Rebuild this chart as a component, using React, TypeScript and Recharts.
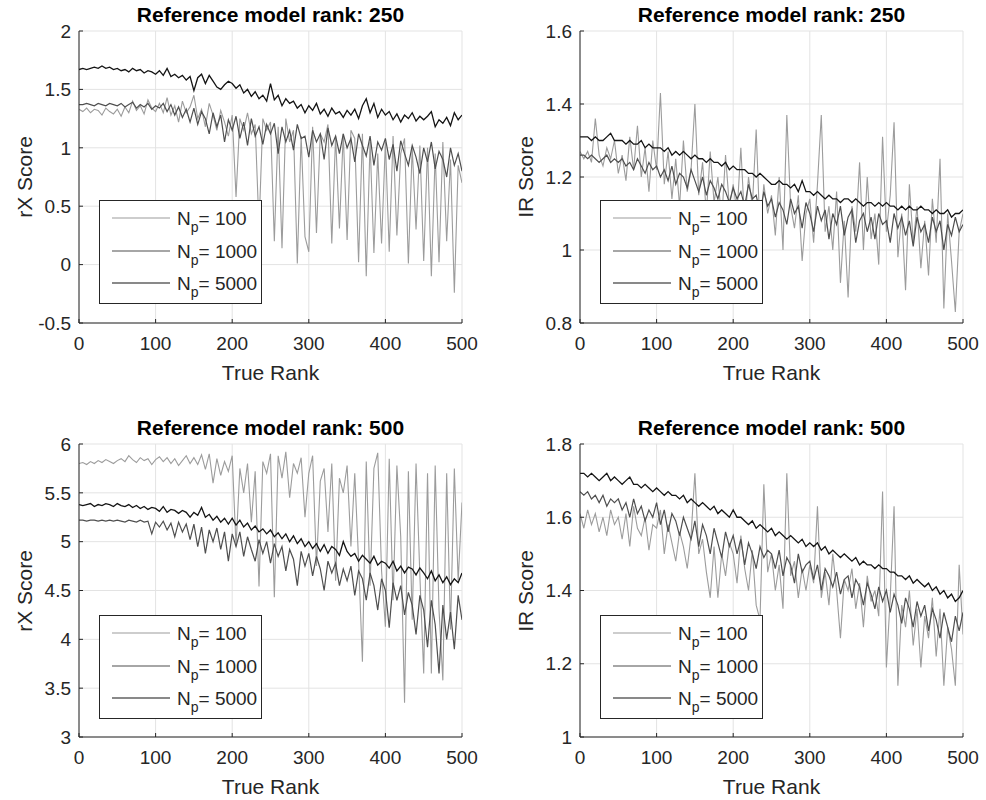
import React from 'react';
import { LineChart, Line, XAxis, YAxis, CartesianGrid } from 'recharts';

// true rank, sampled every 5
const ranks = Array.from({ length: 101 }, (_, i) => i * 5);
const rankTicks = [0, 100, 200, 300, 400, 500];

// ---- reference model rank 250, rX score ----
const rx250N100 = [
  1.33, 1.31, 1.34, 1.3, 1.33, 1.32, 1.28, 1.34, 1.31, 1.29,
  1.33, 1.27, 1.35, 1.3, 1.4, 1.32, 1.36, 1.29, 1.41, 1.34,
  1.31, 1.38, 1.3, 1.43, 1.28, 1.36, 1.22, 1.4, 1.3, 1.35,
  1.45, 1.25, 1.33, 1.18, 1.38, 1.28, 1.15, 1.32, 1.22, 1.1,
  1.28, 0.58, 1.25, 1.15, 1.3, 1.12, 1.2, 0.32, 1.25, 1.15,
  1.22, 0.2, 1.18, 0.14, 1.25, 1.05, 1.15, 0.01, 1.1, 0.24,
  0.11, 1.18, 0.27, 1.12, 1.05, 1.2, 0.18, 1.1, 0.31, 1.12,
  0.21, 1.15, 1.08, 0.02, 1.12, -0.1, 1.05, 0.1, 0.95, 0.18,
  1.05, 0.11, 1.1, 0.25, 0.95, 1.08, 0.01, 1.0, 0.3, 1.02,
  0.03, 1.0, -0.1, 0.95, 0.02, 1.05, 0.2, 0.9, -0.24, 0.85,
  0.7,
];
const rx250N1000 = [
  1.37, 1.37, 1.38, 1.37, 1.36, 1.38, 1.37, 1.36, 1.38, 1.37,
  1.36, 1.38, 1.35, 1.37, 1.39, 1.34, 1.37, 1.35, 1.38, 1.33,
  1.36, 1.34, 1.38, 1.31, 1.37, 1.28, 1.35, 1.26, 1.33, 1.22,
  1.34, 1.2, 1.31, 1.25, 1.12, 1.3, 1.18, 1.28, 1.05, 1.24,
  1.15, 1.27, 1.08, 1.22, 1.02, 1.25, 1.1, 1.18, 1.03, 1.2,
  1.12, 1.21, 0.95, 1.18, 1.05, 1.15, 0.98, 1.2, 1.08, 1.1,
  0.92, 1.15, 1.05, 1.12, 0.9, 1.17, 1.02, 1.1, 0.95, 1.12,
  1.0, 1.08, 0.88, 1.12, 1.02, 0.93, 1.1, 0.85, 1.05, 0.98,
  1.08, 0.9, 1.03, 0.8, 1.06, 0.95, 0.85, 1.02, 0.92, 0.78,
  1.0, 0.88, 1.05, 0.82, 0.97, 0.9, 0.75, 1.0, 0.85, 0.95,
  0.8,
];
const rx250N5000 = [
  1.67, 1.68, 1.67, 1.68, 1.69, 1.68, 1.7, 1.68, 1.69, 1.67,
  1.68, 1.66, 1.67, 1.65, 1.68, 1.66, 1.67, 1.64, 1.66, 1.65,
  1.63, 1.66, 1.62, 1.68, 1.61, 1.63, 1.6, 1.62, 1.58, 1.61,
  1.49, 1.6, 1.63, 1.55, 1.62, 1.57, 1.52, 1.5, 1.54, 1.57,
  1.55, 1.51, 1.54, 1.47, 1.5, 1.44, 1.48, 1.42, 1.45, 1.4,
  1.55, 1.41, 1.45, 1.36, 1.42, 1.38, 1.4, 1.34, 1.37, 1.3,
  1.36, 1.32, 1.38, 1.29, 1.33, 1.27, 1.34, 1.29, 1.31, 1.26,
  1.32, 1.28, 1.33, 1.25, 1.36, 1.42, 1.3, 1.38, 1.26, 1.33,
  1.28, 1.31, 1.24, 1.29, 1.22, 1.28, 1.25, 1.3, 1.23, 1.27,
  1.24, 1.27, 1.31, 1.18, 1.24, 1.21, 1.26, 1.19, 1.3, 1.24,
  1.28,
];

// ---- reference model rank 250, IR score ----
const ir250N100 = [
  1.27, 1.25, 1.27, 1.24, 1.36, 1.26, 1.23, 1.28, 1.25, 1.3,
  1.21, 1.26, 1.19, 1.31, 1.22, 1.34, 1.2, 1.28, 1.16, 1.3,
  1.22, 1.43, 1.18, 1.27, 1.14, 1.25, 1.12, 1.3, 1.16, 1.22,
  1.4, 1.15, 1.24, 1.1, 1.27, 1.13, 1.2, 1.08, 1.26, 1.12,
  1.18, 1.1, 1.28, 1.07, 1.2, 1.12, 1.33, 1.05, 1.18, 1.1,
  1.15, 1.04, 1.2, 1.0, 1.37, 1.12, 1.06, 1.15, 0.97, 1.1,
  1.14, 1.02, 1.18, 1.37, 1.05, 1.12, 1.0, 1.16, 0.91, 1.08,
  0.87, 1.12, 1.05, 1.24, 1.0, 1.2, 1.03, 1.1, 0.96, 1.31,
  1.05, 1.15, 1.35, 0.98, 1.1, 0.89, 1.18, 1.02, 1.12, 0.95,
  1.08, 0.93, 1.14, 1.02, 1.25, 0.84, 1.1, 0.97, 0.83, 1.05,
  1.1,
];
const ir250N1000 = [
  1.26, 1.26, 1.25, 1.26, 1.25, 1.24, 1.25, 1.26, 1.24, 1.25,
  1.24, 1.25, 1.23, 1.24, 1.22, 1.25, 1.23, 1.21, 1.24, 1.22,
  1.23, 1.2, 1.22, 1.19, 1.23, 1.18, 1.21, 1.2, 1.17, 1.22,
  1.19, 1.16, 1.2, 1.15, 1.19, 1.17, 1.14, 1.18, 1.16, 1.13,
  1.17, 1.14, 1.16, 1.12, 1.18, 1.14, 1.15, 1.1, 1.16, 1.12,
  1.14, 1.09, 1.13, 1.11, 1.07, 1.14, 1.1, 1.12, 1.06, 1.13,
  1.1, 1.05, 1.12, 1.08, 1.11, 1.03, 1.1, 1.07, 1.12, 1.04,
  1.09, 1.11, 1.02, 1.08, 1.1, 1.05, 1.09, 1.03, 1.1, 1.07,
  1.08, 1.02, 1.1, 1.06, 1.09, 1.04, 1.08, 1.01, 1.09, 1.05,
  1.07, 1.02, 1.09, 1.05, 1.08, 1.0, 1.07, 1.04, 1.09, 1.05,
  1.07,
];
const ir250N5000 = [
  1.31, 1.31, 1.31, 1.3, 1.31, 1.3, 1.3, 1.31, 1.32, 1.3,
  1.3, 1.3, 1.29, 1.3, 1.29, 1.29, 1.3, 1.28, 1.29, 1.28,
  1.28, 1.28, 1.27, 1.28, 1.26, 1.27, 1.26, 1.27, 1.26, 1.25,
  1.26, 1.25, 1.25, 1.24, 1.25, 1.24, 1.24, 1.23, 1.24, 1.22,
  1.23, 1.22, 1.22, 1.22, 1.21, 1.21, 1.2, 1.21, 1.2, 1.19,
  1.18, 1.18, 1.19, 1.18, 1.18, 1.17, 1.18, 1.16, 1.19, 1.16,
  1.16, 1.15, 1.16, 1.15, 1.14, 1.15, 1.14, 1.14, 1.13, 1.14,
  1.14, 1.13, 1.14, 1.13, 1.12, 1.13, 1.13, 1.12, 1.13, 1.12,
  1.13, 1.12, 1.12, 1.11, 1.12, 1.11, 1.12, 1.11, 1.11, 1.12,
  1.11, 1.11, 1.1, 1.11, 1.1, 1.1, 1.11, 1.09, 1.1, 1.1,
  1.11,
];

// ---- reference model rank 500, rX score ----
const rx500N100 = [
  5.8, 5.81, 5.79, 5.82, 5.8, 5.83, 5.81, 5.84, 5.82, 5.8,
  5.83, 5.85, 5.82, 5.88, 5.84, 5.81, 5.86, 5.83, 5.85, 5.79,
  5.84, 5.87, 5.82, 5.86, 5.8, 5.85, 5.78, 5.83, 5.88, 5.8,
  5.86, 5.79, 5.89, 5.74, 5.9, 5.6, 5.85, 5.68, 5.82, 5.72,
  5.88, 4.95, 5.75, 5.5, 5.8, 5.2, 5.72, 4.54, 5.82, 5.7,
  5.9, 4.43, 5.88, 5.65, 5.92, 5.45, 5.8, 5.7, 5.86, 5.25,
  5.7, 5.88, 4.75, 5.62, 5.75, 5.1, 5.8, 4.6, 5.65, 5.5,
  5.78, 4.95, 5.7, 4.8, 3.77, 5.82, 4.55, 5.75, 5.91, 4.7,
  4.13, 5.85, 4.4, 5.78, 5.05, 3.35, 5.72, 4.2, 5.8, 4.65,
  3.65, 5.7, 3.65, 5.78, 4.3, 3.58, 5.7, 4.1, 5.75, 4.6,
  5.4,
];
const rx500N1000 = [
  5.22, 5.22, 5.21, 5.22, 5.22, 5.21, 5.22, 5.21, 5.22, 5.21,
  5.22, 5.21, 5.2, 5.22, 5.21, 5.2, 5.22, 5.2, 5.21, 5.08,
  5.2, 5.15, 5.21, 5.12, 5.19, 5.05, 5.2, 5.1, 5.18, 5.02,
  5.18, 4.95, 5.15, 4.88, 5.12, 5.0, 5.14, 4.92, 5.1, 4.8,
  5.08, 4.95, 5.1, 4.85, 5.05, 4.92, 4.8, 5.02, 4.88, 5.0,
  4.78, 4.98, 4.85, 4.95, 4.7, 4.92, 4.82, 4.55, 4.9, 4.75,
  4.88, 4.65, 4.85, 4.72, 4.5, 4.8, 4.68, 4.78, 4.55, 4.72,
  4.6, 4.75, 4.45, 4.7, 4.62, 4.4, 4.68, 4.55, 4.3, 4.62,
  4.5, 4.12, 4.58, 4.4, 4.55, 4.25, 4.48, 4.35, 4.05, 4.45,
  4.3, 3.92, 4.4, 4.15, 3.65, 4.35, 4.0, 4.28, 3.9, 4.45,
  4.2,
];
const rx500N5000 = [
  5.38, 5.37, 5.38, 5.39, 5.36, 5.38, 5.37, 5.39, 5.38, 5.36,
  5.39, 5.37, 5.36, 5.38, 5.35, 5.37, 5.34, 5.36, 5.33, 5.35,
  5.34, 5.31, 5.36, 5.3, 5.33, 5.32, 5.29, 5.32, 5.3, 5.25,
  5.3, 5.27, 5.35, 5.25, 5.28, 5.22, 5.26, 5.2, 5.24, 5.18,
  5.24, 5.17, 5.22, 5.15, 5.19, 5.12, 5.16, 5.1, 5.13, 5.08,
  5.12, 5.05, 5.09, 5.03, 5.08, 5.0, 5.06, 4.98, 5.03, 4.95,
  5.0, 4.93, 4.98, 4.9, 4.97, 4.88, 4.95, 4.92, 4.86, 5.0,
  4.9, 4.85, 4.88, 4.8, 4.86, 4.82, 4.78, 4.85, 4.76, 4.8,
  4.78, 4.73, 4.8, 4.7, 4.75, 4.68, 4.74, 4.72, 4.66, 4.73,
  4.68, 4.62, 4.7, 4.6, 4.66, 4.58, 4.64, 4.56, 4.62, 4.58,
  4.68,
];

// ---- reference model rank 500, IR score ----
const ir500N100 = [
  1.61, 1.57, 1.62, 1.58, 1.61, 1.56, 1.6, 1.55, 1.62, 1.58,
  1.6, 1.54, 1.61, 1.52, 1.63, 1.57, 1.55, 1.6, 1.51, 1.58,
  1.57, 1.62, 1.5, 1.58, 1.53, 1.48, 1.56, 1.52, 1.46, 1.55,
  1.72, 1.5, 1.54, 1.45, 1.38, 1.52, 1.38, 1.5, 1.44, 1.53,
  1.5, 1.42, 1.55, 1.46, 1.4, 1.51, 1.36, 1.32, 1.69, 1.45,
  1.5, 1.4, 1.47, 1.35, 1.72, 1.44, 1.48, 1.38, 1.46, 1.4,
  1.47, 1.42, 1.63, 1.38, 1.45, 1.36, 1.5, 1.4, 1.27, 1.43,
  1.4, 1.46, 1.35, 1.42, 1.3, 1.44, 1.37, 1.4, 1.33, 1.67,
  1.19, 1.38, 1.63, 1.14, 1.36, 1.3, 1.4, 1.25, 1.35, 1.19,
  1.33, 1.27, 1.38, 1.22, 1.35, 1.14, 1.3, 1.24, 1.14, 1.47,
  1.28,
];
const ir500N1000 = [
  1.67, 1.66, 1.67, 1.65, 1.66, 1.64, 1.66, 1.63, 1.65, 1.64,
  1.65, 1.62, 1.64, 1.6, 1.65, 1.61, 1.63, 1.59, 1.62, 1.6,
  1.64, 1.58, 1.62, 1.56, 1.61, 1.59, 1.55, 1.6, 1.57, 1.54,
  1.59, 1.52, 1.58, 1.55, 1.5, 1.57, 1.53, 1.49, 1.56, 1.52,
  1.55, 1.5, 1.54, 1.47, 1.53, 1.5, 1.46, 1.52, 1.49, 1.51,
  1.5, 1.46, 1.51, 1.44, 1.49, 1.47, 1.42, 1.5, 1.45, 1.47,
  1.48, 1.43, 1.47, 1.4, 1.46, 1.44, 1.41, 1.45, 1.39, 1.43,
  1.44, 1.38, 1.43, 1.41, 1.36, 1.42, 1.39, 1.35, 1.41, 1.37,
  1.4, 1.34, 1.39, 1.36, 1.31, 1.38, 1.35, 1.3, 1.37, 1.33,
  1.36, 1.29, 1.35, 1.32, 1.27, 1.34, 1.3, 1.26, 1.33, 1.29,
  1.34,
];
const ir500N5000 = [
  1.72, 1.72, 1.71, 1.72, 1.71, 1.7, 1.71, 1.72, 1.7, 1.71,
  1.7, 1.69, 1.7, 1.71, 1.69, 1.69, 1.68, 1.69, 1.68, 1.67,
  1.68, 1.67, 1.66, 1.67, 1.66, 1.66, 1.65, 1.66, 1.64, 1.65,
  1.64, 1.63, 1.64, 1.63, 1.62, 1.63, 1.61, 1.62, 1.61, 1.6,
  1.62, 1.6, 1.6, 1.59, 1.58, 1.59, 1.57, 1.58, 1.57, 1.56,
  1.57, 1.55, 1.56, 1.55, 1.54, 1.55, 1.54, 1.53, 1.54, 1.52,
  1.53, 1.52, 1.53, 1.51, 1.52, 1.5, 1.51, 1.5, 1.49, 1.5,
  1.49, 1.48, 1.49, 1.47, 1.48, 1.47, 1.47, 1.46, 1.47, 1.46,
  1.46, 1.45, 1.45, 1.44, 1.44, 1.43, 1.44, 1.42, 1.43, 1.42,
  1.41, 1.42, 1.4, 1.41, 1.39, 1.4, 1.38, 1.39, 1.37, 1.38,
  1.4,
];

const legendLabels = ['100', '1000', '5000'];
const colors = ['#9c9c9c', '#4f4f4f', '#141414'];
const FONT = '"Liberation Sans", Arial, Helvetica, sans-serif';
const TEXT = '#262626';

type PanelProps = {
  left: number;
  top: number;
  plotLeft: number;
  plotRight: number;
  plotTop: number;
  plotBottom: number;
  title: string;
  yLabel: string;
  yDomain: [number, number];
  yTicks: number[];
  series: number[][];
  legendLeft: number;
  legendTop: number;
};

function Legend({ x, y }: { x: number; y: number }) {
  const rows = [18, 51, 83];
  return (
    <svg
      width={163}
      height={104}
      style={{ position: 'absolute', left: x, top: y, background: '#fff' }}
    >
      <rect x={0.5} y={0.5} width={162} height={103} fill="#fff" stroke="#262626" strokeWidth={1} />
      {legendLabels.map((lab, i) => (
        <g key={lab}>
          <line x1={13} x2={71} y1={rows[i]} y2={rows[i]} stroke={colors[i]} strokeWidth={1.2} />
          <text x={78} y={rows[i] + 7} fontSize={19} fill={TEXT} fontFamily={FONT}>
            N
            <tspan fontSize={14} dy={7}>p</tspan>
            <tspan fontSize={19} dy={-7}>= {lab}</tspan>
          </text>
        </g>
      ))}
    </svg>
  );
}

function Panel(p: PanelProps) {
  const W = 493;
  const H = 400;
  const rows = ranks.map((r, i) => ({
    rank: r,
    n100: p.series[0][i],
    n1000: p.series[1][i],
    n5000: p.series[2][i],
  }));
  const tickStyle = { fontSize: 19, fill: TEXT, fontFamily: FONT };
  const plotMidX = (p.plotLeft + p.plotRight) / 2;
  const plotMidY = (p.plotTop + p.plotBottom) / 2;
  return (
    <div style={{ position: 'absolute', left: p.left, top: p.top, width: W, height: H }}>
      <div
        style={{
          position: 'absolute', left: plotMidX, top: p.plotTop - 16, transform: 'translate(-50%, -50%)',
          fontFamily: FONT, fontWeight: 'bold', fontSize: 21, color: '#000', whiteSpace: 'nowrap',
        }}
      >
        {p.title}
      </div>
      <LineChart
        width={W}
        height={H}
        data={rows}
        margin={{ top: p.plotTop, right: W - p.plotRight, bottom: 0, left: 0 }}
      >
        <CartesianGrid stroke="#e3e3e3" strokeWidth={1} />
        <XAxis
          dataKey="rank"
          type="number"
          domain={[0, 500]}
          ticks={rankTicks}
          allowDataOverflow
          height={H - p.plotBottom}
          stroke="#262626"
          tickSize={-4}
          tickMargin={18}
          tick={tickStyle}
        />
        <XAxis
          xAxisId="top"
          orientation="top"
          dataKey="rank"
          type="number"
          domain={[0, 500]}
          ticks={rankTicks}
          height={0}
          stroke="#262626"
          tick={false}
        />
        <YAxis
          type="number"
          domain={p.yDomain}
          ticks={p.yTicks}
          allowDataOverflow
          width={p.plotLeft}
          stroke="#262626"
          tickSize={-4}
          tickMargin={12}
          tick={tickStyle}
        />
        <YAxis
          yAxisId="right"
          orientation="right"
          type="number"
          domain={p.yDomain}
          ticks={p.yTicks}
          width={0}
          stroke="#262626"
          tick={false}
        />
        <Line dataKey="n100" stroke={colors[0]} strokeWidth={1.1} dot={false} isAnimationActive={false} />
        <Line dataKey="n1000" stroke={colors[1]} strokeWidth={1.2} dot={false} isAnimationActive={false} />
        <Line dataKey="n5000" stroke={colors[2]} strokeWidth={1.3} dot={false} isAnimationActive={false} />
      </LineChart>
      <div
        style={{
          position: 'absolute', left: plotMidX, top: p.plotBottom + 50, transform: 'translate(-50%, -50%)',
          fontFamily: FONT, fontSize: 21, color: TEXT, whiteSpace: 'nowrap',
        }}
      >
        True Rank
      </div>
      <div
        style={{
          position: 'absolute', left: p.plotLeft - 54, top: plotMidY,
          transform: 'translate(-50%, -50%) rotate(-90deg)',
          fontFamily: FONT, fontSize: 21, color: TEXT, whiteSpace: 'nowrap',
        }}
      >
        {p.yLabel}
      </div>
      <Legend x={p.legendLeft} y={p.legendTop} />
    </div>
  );
}

export default function App() {
  return (
    <div style={{ position: 'absolute', left: 0, top: 0, width: 986, height: 800, background: '#fff' }}>
      <Panel
        left={0} top={0} plotLeft={79} plotRight={462} plotTop={31} plotBottom={323}
        title="Reference model rank: 250" yLabel="rX Score"
        yDomain={[-0.5, 2]} yTicks={[-0.5, 0, 0.5, 1, 1.5, 2]}
        series={[rx250N100, rx250N1000, rx250N5000]}
        legendLeft={99} legendTop={200}
      />
      <Panel
        left={493} top={0} plotLeft={87} plotRight={470} plotTop={31} plotBottom={323}
        title="Reference model rank: 250" yLabel="IR Score"
        yDomain={[0.8, 1.6]} yTicks={[0.8, 1, 1.2, 1.4, 1.6]}
        series={[ir250N100, ir250N1000, ir250N5000]}
        legendLeft={107} legendTop={200}
      />
      <Panel
        left={0} top={400} plotLeft={79} plotRight={462} plotTop={44} plotBottom={337}
        title="Reference model rank: 500" yLabel="rX Score"
        yDomain={[3, 6]} yTicks={[3, 3.5, 4, 4.5, 5, 5.5, 6]}
        series={[rx500N100, rx500N1000, rx500N5000]}
        legendLeft={99} legendTop={215}
      />
      <Panel
        left={493} top={400} plotLeft={87} plotRight={470} plotTop={44} plotBottom={337}
        title="Reference model rank: 500" yLabel="IR Score"
        yDomain={[1, 1.8]} yTicks={[1, 1.2, 1.4, 1.6, 1.8]}
        series={[ir500N100, ir500N1000, ir500N5000]}
        legendLeft={107} legendTop={215}
      />
    </div>
  );
}
